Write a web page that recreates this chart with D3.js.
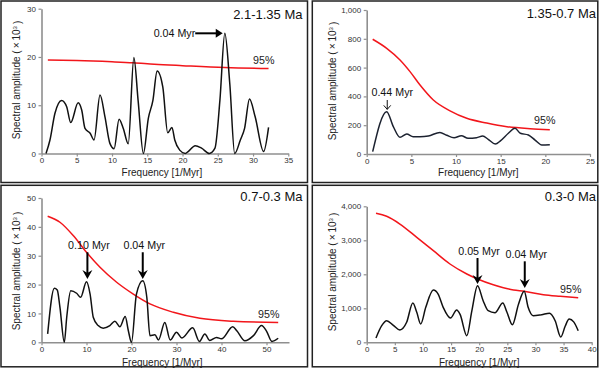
<!DOCTYPE html>
<html><head><meta charset="utf-8">
<script src="https://cdn.jsdelivr.net/npm/d3@7"></script>
<style>
html,body{margin:0;padding:0;background:#fff;}
svg{display:block;font-family:"Liberation Sans",Arial,sans-serif;}
</style></head>
<body><svg id="c" width="600" height="369"></svg>
<script>
// ---------- Panel 1: 2.1-1.35 Ma ----------
const p1Title = "2.1-1.35 Ma";
const p1Freq = [0.64,1.2,1.9,2.86,3.57,4.14,5.2,5.7,6.17,6.9,7.45,8.3,9.0,9.7,10.3,11.0,11.6,12.3,13.1,13.7,14.45,15.15,15.8,16.4,17.2,17.9,18.5,18.9,19.6,20.4,20.8,21.8,22.7,23.8,24.6,25.3,26.0,26.7,27.4,28.2,28.8,29.5,30.3,31.5,32.2];
const p1Amp  = [0,2.8,8.3,11.0,9.7,6.4,10.5,9.0,5.2,4.2,2.8,12.1,7.6,2.1,1.0,7.1,5.2,2.0,19.9,11.0,0,7.3,11.0,17.1,13.8,4.3,5.4,2.8,0.7,0,0.4,1.6,1.1,0,1.1,11.0,24.9,14.5,0,2.8,5.2,11.3,7.6,0.4,5.4];
const p1RedFreq = [0.9,5,10,13,16,20,26,32.2];
const p1Red     = [19.35,19.25,19.0,18.8,18.5,18.2,17.8,17.6];
const p1XTicks = [0,5,10,15,20,25,30,35];
const p1YTicks = [0,10,20,30];

// ---------- Panel 2: 1.35-0.7 Ma ----------
const p2Title = "1.35-0.7 Ma";
const p2Freq = [0.67,2.24,2.98,3.73,4.48,5.2,5.95,6.9,8.2,8.96,9.78,10.6,11.35,12.3,12.99,13.6,14.4,15.0,15.86,16.6,17.2,18.1,18.85,19.6,20.5];
const p2Amp  = [16,294,190,116,139,120,120,125,150,130,113,127,109,113,125,102,69,93,144,178,144,132,97,63,65];
const p2RedFreq = [0.67,2.24,3.73,4.85,5.97,7.46,9.33,11.2,13.44,15.7,18.3,20.5];
const p2Red     = [797,734,653,572,479,375,300,248,215,190,176,169];
const p2XTicks = [0,5,10,15,20,25];
const p2YTicks = [0,200,400,600,800,1000];

// ---------- Panel 3: 0.7-0.3 Ma ----------
const p3Title = "0.7-0.3 Ma";
const p3Freq = [1.37,2.85,3.5,4.1,5.07,5.6,6.5,7.8,8.7,10.0,10.8,11.5,12.6,13.7,15.2,16.3,17.4,18.6,19.3,20.0,21.1,22.5,23.4,24.1,25.2,26.0,27.4,28.6,30.0,31.2,33.6,35.1,36.3,37.4,38.9,40.0,42.5,43.4,45.2,47.1,48.9,50.0,51.2,52.6];
const p3Amp  = [2.9,18.7,18.1,12.1,0,8.6,17.9,17.0,15.6,21.0,16.7,8.7,5.8,4.9,5.8,7.3,5.4,8.9,4.0,0,16.7,21.3,15.6,2.3,2.6,0.8,6.9,0.8,3.5,1.5,5.0,0.3,2.9,0.6,1.7,1.2,5.4,4.0,0.5,2.3,5.8,3.9,0.3,1.4];
const p3RedFreq = [1.37,4.1,7.1,10.0,13,16.7,20.4,24.1,29.3,35.2,42.6,52.6];
const p3Red     = [43.7,41.6,36.9,31.2,26,20.8,16.7,13.3,10.4,8.3,7.3,6.9];
const p3XTicks = [0,10,20,30,40,50];
const p3YTicks = [0,10,20,30,40,50];

// ---------- Panel 4: 0.3-0 Ma ----------
const p4Title = "0.3-0 Ma";
const p4Freq = [1.65,2.67,3.55,4.74,5.9,7.1,8.2,8.9,9.6,10.5,11.85,12.7,13.6,14.9,16.0,16.6,17.8,18.7,19.7,20.7,21.6,22.8,24.2,24.9,25.9,27.0,28.0,28.7,29.6,31.1,32.5,33.5,34.5,35.3,36.0,36.8,37.6];
const p4Amp  = [126,488,635,500,362,588,1156,882,538,1029,1538,1420,1029,715,950,820,194,929,1665,1224,929,870,1156,900,518,1126,1500,1029,782,812,853,635,156,480,685,600,341];
const p4RedFreq = [1.65,3.55,5.9,8.9,11.85,14.8,17.8,19.7,22.5,26.1,28.0,31.4,34.4,37.6];
const p4Red     = [3794,3706,3479,3088,2694,2303,2009,1862,1694,1538,1500,1400,1353,1312];
const p4XTicks = [0,5,10,15,20,25,30,35,40];
const p4YTicks = [0,1000,2000,3000,4000];

// annotation labels (text, arrow start/end in data units)
const p1Notes = [{label:"0.04 Myr", fx:21.8, fy:24.9, tx:25.7, ty:24.9}];
const p2Notes = [{label:"0.44 Myr", fx:2.3, fy:375, tx:2.3, ty:310}];
const p3Notes = [{label:"0.10 Myr", fx:10.2, fy:31.2, tx:10.2, ty:21.9},
                 {label:"0.04 Myr", fx:22.5, fy:31.2, tx:22.5, ty:21.9}];
const p4Notes = [{label:"0.05 Myr", fx:19.7, fy:2479, tx:19.7, ty:1715},
                 {label:"0.04 Myr", fx:28.1, fy:2382, tx:28.1, ty:1597}];

const svg = d3.select("#c");

const panels = [
  {title:p1Title, freq:p1Freq, amp:p1Amp, rf:p1RedFreq, rv:p1Red, xt:p1XTicks, yt:p1YTicks, notes:p1Notes,
   box:[1,1,306.5,181.5], xr:[41.5,288.3], xd:[0,35], yr:[153.5,8.7], yd:[0,30],
   titleX:302.5, titleY:18.6, ytX:16, ytY:80, xtY:176, pct:[253,64], noteStyle:"h", lineCol:"#111"},
  {title:p2Title, freq:p2Freq, amp:p2Amp, rf:p2RedFreq, rv:p2Red, xt:p2XTicks, yt:p2YTicks, notes:p2Notes,
   box:[312.3,1,285.5,181.5], xr:[366.7,590], xd:[0,25], yr:[154,10], yd:[0,1000],
   titleX:596, titleY:18.3, ytX:332, ytY:81, xtY:176, pct:[534,123.5], noteStyle:"thin", lineCol:"#1c2230"},
  {title:p3Title, freq:p3Freq, amp:p3Amp, rf:p3RedFreq, rv:p3Red, xt:p3XTicks, yt:p3YTicks, notes:p3Notes,
   box:[1,185.3,306.5,181.5], xr:[41.5,289], xd:[0,55], yr:[342.3,198], yd:[0,50],
   titleX:302.5, titleY:200.6, ytX:16, ytY:271, xtY:365.5, pct:[258,318], noteStyle:"v", lineCol:"#111"},
  {title:p4Title, freq:p4Freq, amp:p4Amp, rf:p4RedFreq, rv:p4Red, xt:p4XTicks, yt:p4YTicks, notes:p4Notes,
   box:[312.3,185.3,285.5,181.5], xr:[366.7,591.7], xd:[0,40], yr:[342.3,206.3], yd:[0,4000],
   titleX:596, titleY:200.8, ytX:332, ytY:272, xtY:365.5, pct:[560,292.5], noteStyle:"v", lineCol:"#111"}
];

const fmt = d3.format(",");

panels.forEach(p => {
  const g = svg.append("g");
  g.append("rect").attr("x",p.box[0]).attr("y",p.box[1]).attr("width",p.box[2]).attr("height",p.box[3])
    .attr("fill","none").attr("stroke","#222").attr("stroke-width",1.5);

  const x = d3.scaleLinear().domain(p.xd).range(p.xr);
  const y = d3.scaleLinear().domain(p.yd).range(p.yr);

  const xa = g.append("g").attr("transform",`translate(0,${p.yr[0]})`)
    .call(d3.axisBottom(x).tickValues(p.xt).tickFormat(fmt).tickSize(3).tickSizeOuter(0).tickPadding(2));
  const ya = g.append("g").attr("transform",`translate(${p.xr[0]},0)`)
    .call(d3.axisLeft(y).tickValues(p.yt).tickFormat(fmt).tickSize(3).tickSizeOuter(0).tickPadding(2.5));
  [xa,ya].forEach(a=>{
    a.select(".domain").attr("stroke","#8f8f8f").attr("stroke-width",1.6);
    a.selectAll(".tick line").attr("stroke","#8f8f8f").attr("stroke-width",1.2);
    a.selectAll(".tick text").attr("fill","#333").style("font-size","8px")
      .style("font-family","'Liberation Sans',Arial,sans-serif");
  });
  xa.selectAll(".tick text").attr("dy","0.62em");

  // red 95% line
  const redData = p.rf.map((f,i)=>[f,p.rv[i]]);
  g.append("path").datum(redData)
    .attr("d", d3.line().x(d=>x(d[0])).y(d=>y(d[1])).curve(d3.curveMonotoneX))
    .attr("fill","none").attr("stroke","#f2161b").attr("stroke-width",1.5);

  // spectrum
  const data = p.freq.map((f,i)=>[f,p.amp[i]]);
  g.append("path").datum(data)
    .attr("d", d3.line().x(d=>x(d[0])).y(d=>y(Math.max(d[1],0))).curve(d3.curveMonotoneX))
    .attr("fill","none").attr("stroke",p.lineCol).attr("stroke-width",1.5).attr("stroke-linejoin","round");

  // titles
  g.append("text").attr("x",p.titleX).attr("y",p.titleY).attr("text-anchor","end")
    .style("font-size","13px").attr("fill","#111").text(p.title);
  g.append("text").attr("x",(p.xr[0]+p.xr[1])/2 - (p.xr[0]<100?3:0)).attr("y",p.xtY).attr("text-anchor","middle")
    .style("font-size","10px").attr("fill","#222").text("Frequency [1/Myr]");
  const yt = g.append("text").attr("transform",`translate(${p.ytX},${p.ytY}) rotate(-90)`)
    .attr("text-anchor","middle").attr("dy","0.35em").style("font-size","10px").attr("fill","#222");
  yt.append("tspan").text("Spectral amplitude (\u2009\u00d7\u200910");
  yt.append("tspan").attr("dy","-0.45em").style("font-size","6px").text("3");
  yt.append("tspan").attr("dy","0.45em").text("\u2009)");

  g.append("text").attr("x",p.pct[0]).attr("y",p.pct[1]).style("font-size","10.7px").attr("fill","#222").text("95%");

  // annotations
  p.notes.forEach(n=>{
    const x1=x(n.fx), y1=y(n.fy), x2=x(n.tx), y2=y(n.ty);
    if (p.noteStyle==="h") {
      g.append("text").attr("x",x1).attr("y",y1+3.5).attr("text-anchor","end")
        .style("font-size","10.7px").attr("fill","#111").text(n.label);
      g.append("line").attr("x1",x1).attr("y1",y1).attr("x2",x2-5).attr("y2",y2)
        .attr("stroke","#000").attr("stroke-width",2);
      g.append("path").attr("d",`M${x2},${y2} L${x2-7},${y2-4.5} L${x2-7},${y2+4.5} Z`).attr("fill","#000");
    } else if (p.noteStyle==="thin") {
      g.append("text").attr("x",x1+5).attr("y",y1-4).attr("text-anchor","middle")
        .style("font-size","10.7px").attr("fill","#111").text(n.label);
      g.append("line").attr("x1",x1).attr("y1",y1).attr("x2",x2).attr("y2",y2)
        .attr("stroke","#111").attr("stroke-width",1);
      g.append("path").attr("d",`M${x2-3.5},${y2-4} L${x2},${y2} L${x2+3.5},${y2-4}`)
        .attr("fill","none").attr("stroke","#111").attr("stroke-width",1);
    } else {
      g.append("text").attr("x",x1+1.5).attr("y",y1-3).attr("text-anchor","middle")
        .style("font-size","10.7px").attr("fill","#111").text(n.label);
      g.append("line").attr("x1",x1).attr("y1",y1).attr("x2",x2).attr("y2",y2-5)
        .attr("stroke","#000").attr("stroke-width",2);
      g.append("path").attr("d",`M${x2},${y2} L${x2-5},${y2-9} L${x2},${y2-6} L${x2+5},${y2-9} Z`).attr("fill","#000");
    }
  });
});
</script></body></html>
